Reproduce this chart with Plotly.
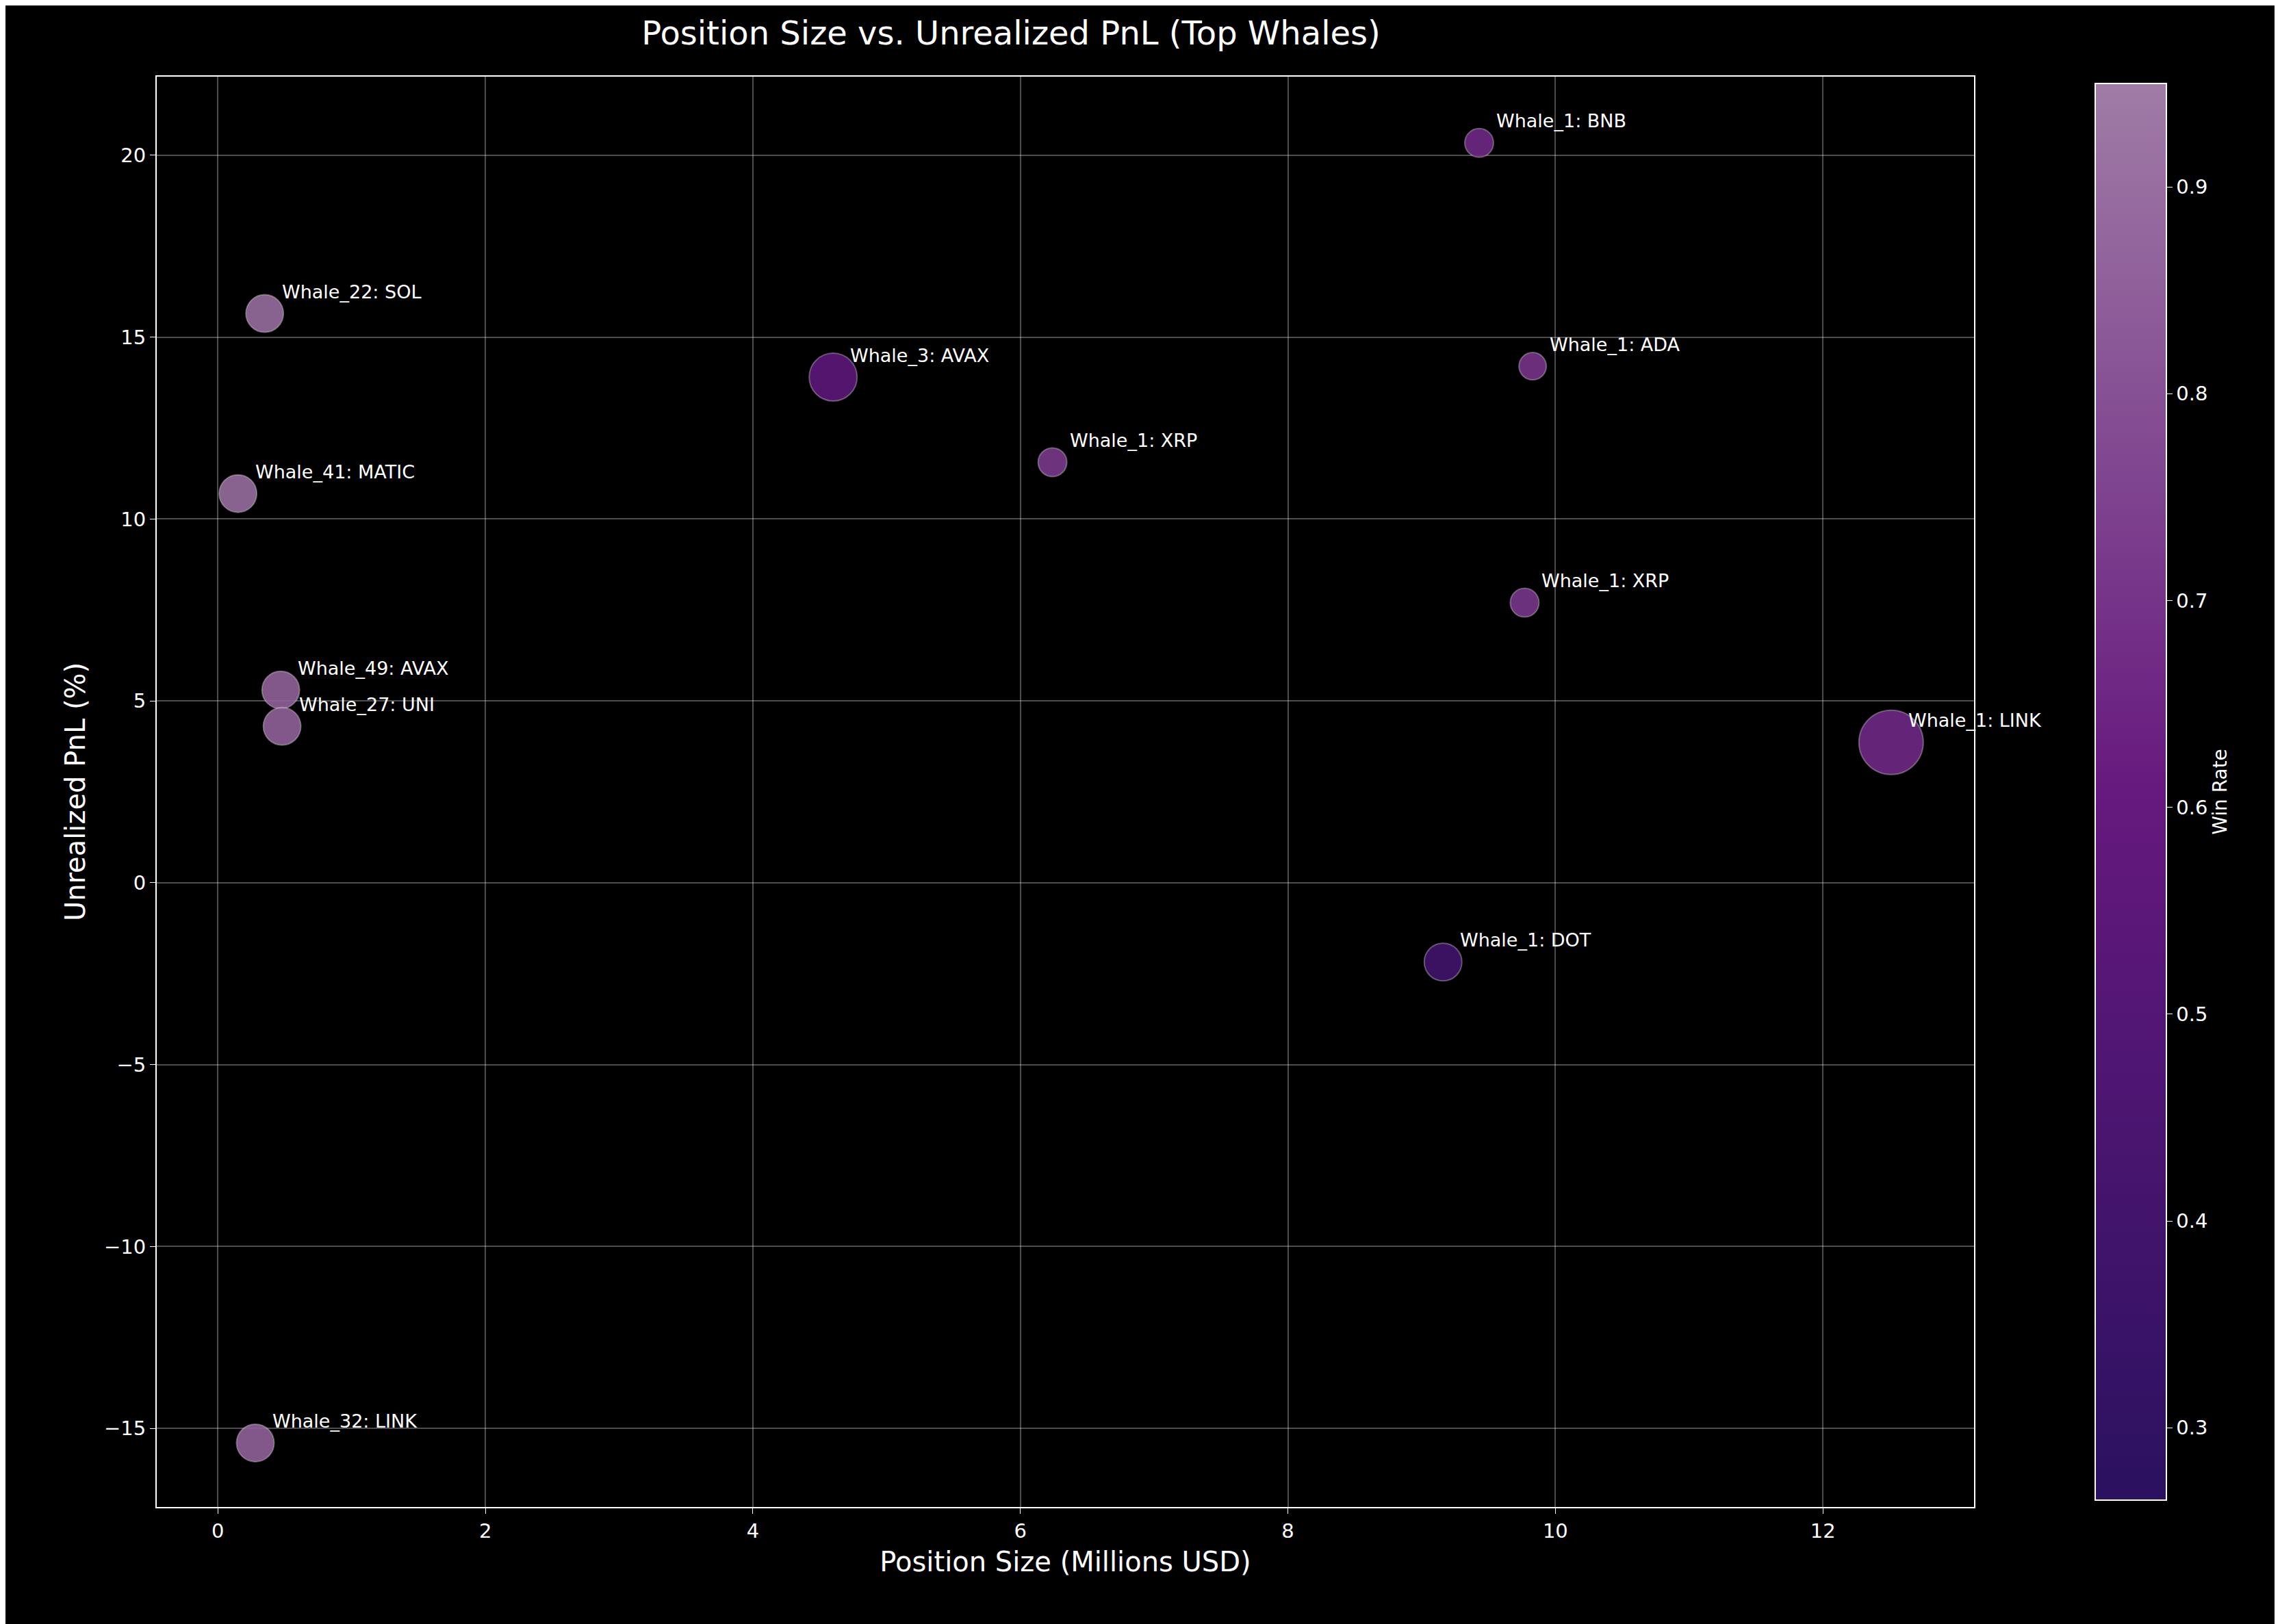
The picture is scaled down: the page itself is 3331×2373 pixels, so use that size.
import plotly.graph_objects as go

# Data
labels = ["Whale_1: BNB", "Whale_1: ADA", "Whale_1: XRP", "Whale_1: XRP", "Whale_1: LINK",
          "Whale_1: DOT", "Whale_3: AVAX", "Whale_22: SOL", "Whale_41: MATIC",
          "Whale_49: AVAX", "Whale_27: UNI", "Whale_32: LINK"]
position_musd = [9.43, 9.83, 6.24, 9.77, 12.51, 9.16, 4.60, 0.35, 0.15, 0.47, 0.48, 0.28]
pnl_pct = [20.34, 14.2, 11.56, 7.7, 3.86, -2.18, 13.9, 15.65, 10.7, 5.3, 4.3, -15.4]
win_rate = [0.66, 0.70, 0.72, 0.71, 0.66, 0.40, 0.55, 0.90, 0.90, 0.86, 0.86, 0.86]
bubble_size = [42, 40, 42, 42, 94, 55, 70, 55, 55, 55, 55, 55]

purple_scale = [[0.0, "#2b1160"], [0.5, "#66197e"], [1.0, "#a07ca6"]]

fig = go.Figure()
fig.add_trace(go.Scatter(
    x=position_musd, y=pnl_pct, mode="markers", text=labels,
    marker=dict(size=bubble_size, color=win_rate, colorscale=purple_scale,
                cmin=0.265, cmax=0.95, opacity=0.9,
                line=dict(color="rgba(255,255,255,0.35)", width=2),
                colorbar=dict(title=dict(text="Win Rate", side="right",
                                         font=dict(size=28, color="white")),
                              tickvals=[0.3, 0.4, 0.5, 0.6, 0.7, 0.8, 0.9],
                              tickfont=dict(size=29, color="white"),
                              thickness=104, len=1.0, lenmode="fraction",
                              y=0.5, yanchor="middle",
                              x=1.063, xanchor="left", outlinecolor="white",
                              outlinewidth=2, ticks="outside", ticklen=8,
                              tickcolor="white")),
    showlegend=False,
))

for lab, x, y in zip(labels, position_musd, pnl_pct):
    fig.add_annotation(x=x, y=y, text=lab, showarrow=False, xanchor="left",
                       yanchor="middle", xshift=23, yshift=32,
                       font=dict(size=27, color="white"))

axis_common = dict(showgrid=True, gridcolor="rgba(255,255,255,0.3)", gridwidth=2,
                   zeroline=False, showline=True, linecolor="white", linewidth=2,
                   mirror=True, ticks="outside", ticklen=8, tickcolor="white",
                   tickfont=dict(size=29, color="white"))

fig.update_xaxes(range=[-0.457, 13.13], dtick=2, **axis_common,
                 title=dict(text="Position Size (Millions USD)",
                            font=dict(size=40, color="white")))
fig.update_yaxes(range=[-17.16, 22.16], dtick=5, tickformat="d", **axis_common,
                 title=dict(text="Unrealized PnL (%)", font=dict(size=40, color="white")))

fig.update_layout(
    width=3331, height=2373,
    paper_bgcolor="black", plot_bgcolor="black",
    font=dict(family="DejaVu Sans", color="white"),
    title=dict(text="Position Size vs. Unrealized PnL (Top Whales)", x=0.441,
               xanchor="center", y=0.99, yanchor="top",
               font=dict(size=48, color="white")),
    margin=dict(l=221, r=455, t=104, b=179),
)

fig.write_html("out.html")
